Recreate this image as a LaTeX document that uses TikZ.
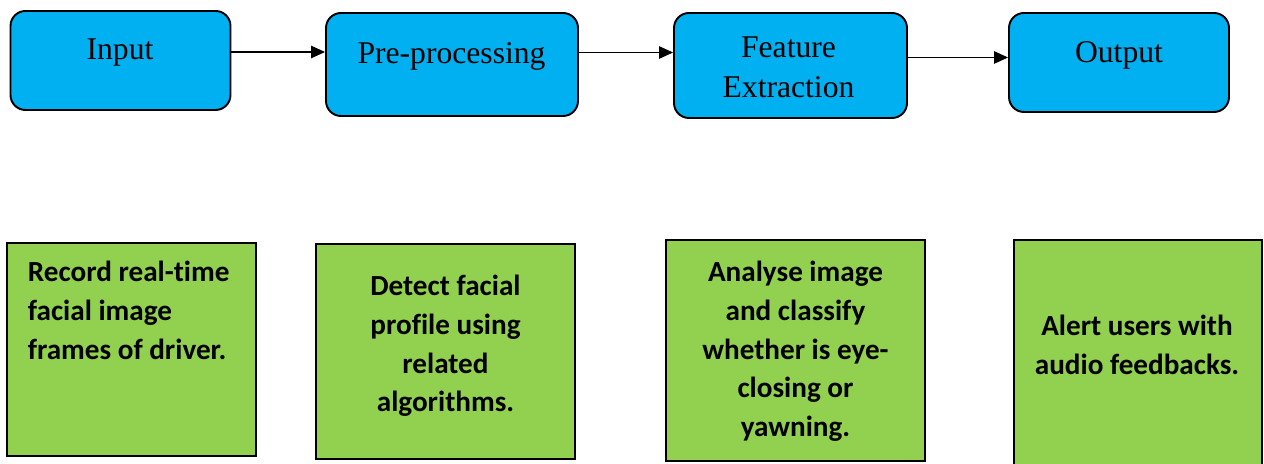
\documentclass[tikz,border=0pt]{standalone}
\usepackage{fontspec}
\setmainfont{Liberation Serif}
\newfontfamily\notefont[Ligatures=NoCommon]{Carlito}
\usetikzlibrary{arrows.meta}
\definecolor{stageblue}{HTML}{00B0F0}
\definecolor{notegreen}{HTML}{92D050}

\begin{document}
\begin{tikzpicture}[
  stage/.style={draw=black, fill=stageblue, line width=1.1pt, rounded corners=0.3cm},
  stagetext/.style={inner sep=0pt, anchor=north, align=center, font=\fontsize{18}{22.8}\selectfont},
  note/.style={draw=black, fill=notegreen, line width=1.1pt},
  notetext/.style={inner sep=0pt, align=center, font=\notefont\bfseries\fontsize{16.6}{22}\selectfont},
  flow/.style={-{Triangle[length=0.28cm,width=0.25cm]}, line width=0.6pt}
]
  \useasboundingbox (0,0) rectangle (25.28,-9.28);

  % pipeline stages
  \node[stage, minimum width=4.4cm, minimum height=1.98cm] (inp) at (2.41,-1.21) {};
  \node[stage, minimum width=5.04cm, minimum height=2.06cm] (pre) at (9.04,-1.29) {};
  \node[stage, minimum width=4.66cm, minimum height=2.10cm] (feat) at (15.81,-1.31) {};
  \node[stage, minimum width=4.40cm, minimum height=1.98cm] (out) at (22.38,-1.25) {};

  \node[stagetext] (inptext) at (2.40,-0.77) {Input};
  \node[stagetext] (pretext) at (9.03,-0.85) {Pre-processing};
  \node[stagetext] (feattext) at (15.77,-0.73) {Feature\\Extraction};
  \node[stagetext] (outtext) at (22.38,-0.83) {Output};

  % arrows between stages
  \draw[flow] (inp.east |- 0,-1.04) -- (pre.west |- 0,-1.04);
  \draw[flow] (pre.east |- 0,-1.05) -- (feat.west |- 0,-1.05);
  \draw[flow] (feat.east |- 0,-1.15) -- (out.west |- 0,-1.15);

  % description boxes
  \node[note, minimum width=4.98cm, minimum height=4.26cm] (rec) at (2.63,-6.99) {};
  \node[note, minimum width=5.18cm, minimum height=4.30cm] (det) at (8.91,-7.03) {};
  \node[note, minimum width=5.18cm, minimum height=4.42cm] (ana) at (15.91,-7.01) {};
  \node[note, minimum width=4.96cm, minimum height=4.52cm] (alr) at (22.76,-7.06) {};

  \node[notetext, anchor=north west, align=left] (rectext) at (0.55,-5.22) {Record real-time\\facial image\\frames of driver.};
  \node[notetext, anchor=north] (dettext) at (8.91,-5.50) {Detect facial\\profile using\\related\\algorithms.};
  \node[notetext, anchor=north] (anatext) at (15.91,-5.22) {Analyse image\\and classify\\whether is eye-\\closing or\\yawning.};
  \node[notetext, anchor=north] (alrtext) at (22.74,-6.30) {Alert users with\\audio feedbacks.};
\end{tikzpicture}
\end{document}
